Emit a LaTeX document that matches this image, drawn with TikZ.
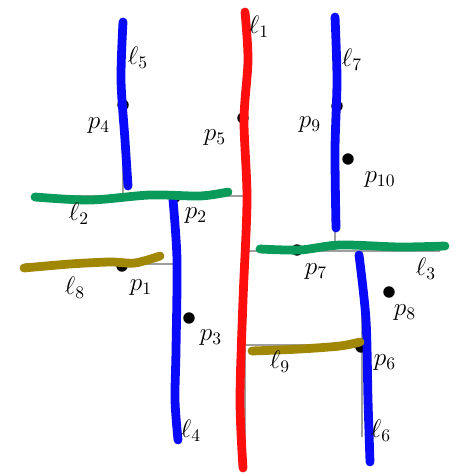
\documentclass[tikz,border=0pt]{standalone}
\usepackage{amsmath}
\usepackage{tikz}
\usetikzlibrary{positioning}

\definecolor{penred}{RGB}{255,14,14}
\definecolor{penblue}{RGB}{10,10,250}
\definecolor{pengreen}{RGB}{10,155,90}
\definecolor{penolive}{RGB}{160,135,5}

\tikzset{
  cut/.style={gray!75, line width=0.7pt},
  pen/.style={line width=5pt, line cap=round, line join=round},
  site/.style={circle, fill=black, inner sep=0pt, minimum size=6.5pt},
  lab/.style={font=\Large, inner sep=1pt},
}

\begin{document}
\begin{tikzpicture}[x=0.02cm, y=-0.02cm]
	\useasboundingbox (0,0) rectangle (458,476);
	
	% Split lines
	\coordinate (t1) at (245,8);
	\coordinate (b1) at (245,470);
	\coordinate (a2) at (35,196);
	\coordinate (c2) at (245,196);
	\coordinate (t5) at (123,22);
	\coordinate (b5) at (123,196);
	\coordinate (t4) at (175,196);
	\coordinate (b4) at (175,436);
	\coordinate (a8) at (25,264);
	\coordinate (c8) at (175,264);
	\coordinate (a3) at (245,251);
	\coordinate (c3) at (440,251);
	\coordinate (t7) at (335,15);
	\coordinate (b7) at (335,251);
	\coordinate (t6) at (362,251);
	\coordinate (b6) at (362,437);
	\coordinate (a9) at (245,345);
	\coordinate (c9) at (362,345);
	
	\draw[cut] (t1) -- (b1);
	\draw[cut] (a2) -- (c2);
	\draw[cut] (t5) -- (b5);
	\draw[cut] (t4) -- (b4);
	\draw[cut] (a8) -- (c8);
	\draw[cut] (a3) -- (c3);
	\draw[cut] (t7) -- (b7);
	\draw[cut] (t6) -- (b6);
	\draw[cut] (a9) -- (c9);
	
	% Points
	\node[site] (p1) at (122,266) {};
	\node[site] (p2) at (175,197) {};
	\node[site] (p3) at (189,318) {};
	\node[site] (p4) at (123,105) {};
	\node[site] (p5) at (243,118) {};
	\node[site] (p6) at (361,347) {};
	\node[site] (p7) at (297,250) {};
	\node[site] (p8) at (389,292) {};
	\node[site] (p9) at (337,106) {};
	\node[site] (p10) at (348,159) {};
	
	% Pen strokes
	\draw[pen, penred] plot[smooth] coordinates {(245,12) (248,60) (244,120) (247,200) (243,300) (240,400) (243,468)};
	\draw[pen, penblue] plot[smooth] coordinates {(123,22) (121,80) (125,140) (128,186)};
	\draw[pen, penblue] plot[smooth] coordinates {(335,17) (337,80) (335,150) (336,228)};
	\draw[pen, penblue] plot[smooth] coordinates {(173,200) (177,260) (176,350) (175,400) (178,440)};
	\draw[pen, penblue] plot[smooth] coordinates {(359,255) (366,320) (368,400) (370,462)};
	\draw[pen, pengreen] plot[smooth] coordinates {(35,197) (90,200) (150,195) (200,196) (228,192)};
	\draw[pen, pengreen] plot[smooth] coordinates {(260,249) (300,250) (340,245) (400,247) (445,246)};
	\draw[pen, penolive] plot[smooth] coordinates {(24,268) (70,264) (110,262) (135,263) (160,256)};
	\draw[pen, penolive] plot[smooth] coordinates {(252,351) (300,349) (340,346) (360,342)};
	
	% Labels
	\node[lab] (l1) at (259,27) {$\ell_1$};
	\node[lab] (l2) at (79,214) {$\ell_2$};
	\node[lab] (l3) at (426,269) {$\ell_3$};
	\node[lab] (l4) at (191,431) {$\ell_4$};
	\node[lab] (l5) at (138,58) {$\ell_5$};
	\node[lab] (l6) at (381,431) {$\ell_6$};
	\node[lab] (l7) at (352,60) {$\ell_7$};
	\node[lab] (l8) at (75,288) {$\ell_8$};
	\node[lab] (l9) at (280,362) {$\ell_9$};
	\node[lab] (q1) at (141,288) {$p_1$};
	\node[lab] (q2) at (196,216) {$p_2$};
	\node[lab] (q3) at (211,338) {$p_3$};
	\node[lab] (q4) at (99,126) {$p_4$};
	\node[lab] (q5) at (215,138) {$p_5$};
	\node[lab] (q6) at (385,363) {$p_6$};
	\node[lab] (q7) at (316,272) {$p_7$};
	\node[lab] (q8) at (405,313) {$p_8$};
	\node[lab] (q9) at (310,125) {$p_9$};
	\node[lab] (q10) at (380,180) {$p_{10}$};
\end{tikzpicture}
\end{document}
